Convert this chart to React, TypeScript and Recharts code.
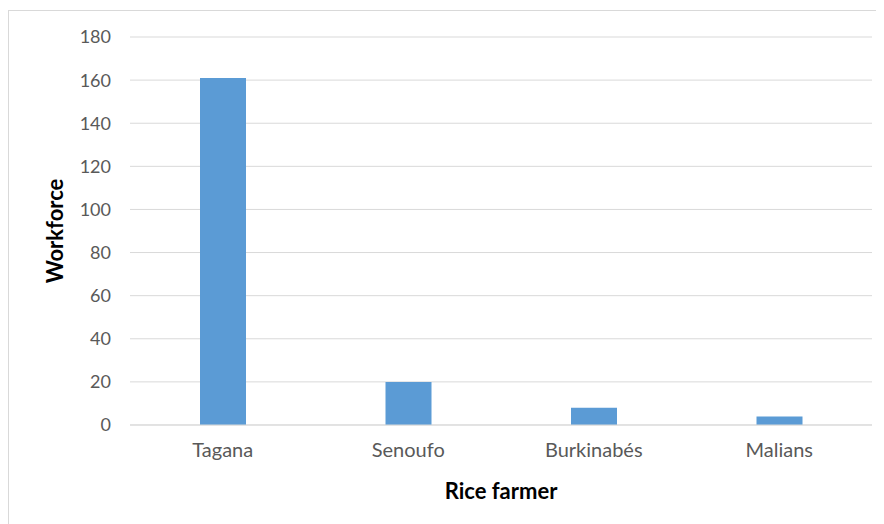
import { BarChart, Bar, XAxis, YAxis, CartesianGrid } from 'recharts';

const farmers = ['Tagana', 'Senoufo', 'Burkinabés', 'Malians'];
const workforce = [161, 20, 8, 4];
const yTicks = [0, 20, 40, 60, 80, 100, 120, 140, 160, 180];

const data = farmers.map((name, i) => ({ name, value: workforce[i] }));

const font = 'Lato, "Open Sans", sans-serif';

export default function App() {
  return (
    <div style={{ paddingTop: 2 }}>
      <div
        style={{
          borderTop: '1px solid #d9d9d9',
          borderLeft: '1px solid #d9d9d9',
          width: 875,
          height: 513,
          background: '#fff',
        }}
      >
        <BarChart
          width={875}
          height={513}
          data={data}
          margin={{ top: 26, right: 12, left: 0, bottom: 0 }}
          style={{ fontFamily: font }}
        >
          <CartesianGrid vertical={false} stroke="#d9d9d9" strokeWidth={1} />
          <XAxis
            dataKey="name"
            height={99}
            stroke="#d9d9d9"
            tickLine={false}
            tickMargin={12}
            tick={{ fill: '#595959', fontSize: 20, fontFamily: font }}
            label={{
              value: 'Rice farmer',
              position: 'insideBottom',
              offset: 25,
              style: { fill: '#000', fontSize: 22, fontWeight: 700, fontFamily: font },
            }}
          />
          <YAxis
            width={121}
            domain={[0, 180]}
            ticks={yTicks}
            axisLine={false}
            tickLine={false}
            tickMargin={13}
            tick={{ fill: '#595959', fontSize: 18, fontFamily: font }}
            label={{
              value: 'Workforce',
              angle: -90,
              position: 'insideLeft',
              offset: 46,
              style: { textAnchor: 'middle', fill: '#000', fontSize: 22, fontWeight: 700, fontFamily: font },
            }}
          />
          <Bar dataKey="value" fill="#5b9bd5" barSize={46} isAnimationActive={false} />
        </BarChart>
      </div>
    </div>
  );
}
